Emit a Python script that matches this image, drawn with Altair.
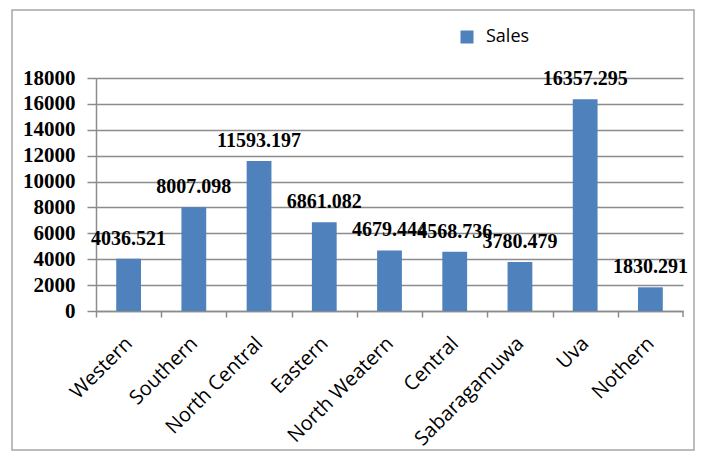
import altair as alt
import pandas as pd

regions = ["Western", "Southern", "North Central", "Eastern", "North Weatern",
           "Central", "Sabaragamuwa", "Uva", "Nothern"]
sales = [4036.521, 8007.098, 11593.197, 6861.082, 4679.444,
         4568.736, 3780.479, 16357.295, 1830.291]
labels = ["4036.521", "8007.098", "11593.197", "6861.082", "4679.444",
          "4568.736", "3780.479", "16357.295", "1830.291"]
series = ["Sales"] * len(regions)
y_ticks = list(range(0, 18001, 2000))

df = pd.DataFrame({"region": regions, "sales": sales, "label": labels, "series": series})

STEP = 587 / 9

x_enc = alt.X(
    "region:N", sort=regions, title=None,
    scale=alt.Scale(paddingInner=0.62, paddingOuter=0.31),
    axis=alt.Axis(
        labelAngle=-45, labelFont="Open Sans", labelFontSize=20, labelColor="#000000",
        labelPadding=16, tickOffset=-STEP / 2, labelOffset=STEP / 2 - 7,
        labelOverlap=False, labelBound=False,
        tickSize=6, tickColor="#8c8c8c", tickWidth=1.5,
        domainColor="#8c8c8c", domainWidth=1.5, grid=False,
    ),
)

y_enc = alt.Y(
    "sales:Q", title=None,
    scale=alt.Scale(domain=[0, 18000], nice=False),
    axis=alt.Axis(
        values=y_ticks, tickCount=10, format="d", labelOverlap=False, labelBound=False,
        labelFont="Liberation Serif", labelFontSize=21,
        labelFontWeight="bold", labelColor="#000000", labelPadding=12,
        tickSize=9, tickColor="#8c8c8c", tickWidth=1.5,
        domainColor="#8c8c8c", domainWidth=1.5,
        grid=True, gridColor="#8c8c8c", gridWidth=1.5,
    ),
)

bars = alt.Chart(df).mark_bar(color="#4F81BD").encode(
    x=x_enc,
    y=y_enc,
    color=alt.Color(
        "series:N", title=None,
        scale=alt.Scale(range=["#4F81BD"]),
        legend=alt.Legend(
            orient="none", legendX=362, legendY=-50, symbolType="square",
            symbolSize=169, symbolStrokeWidth=0, labelFont="Open Sans",
            labelFontSize=18, labelColor="#000000", labelOffset=10, padding=0,
        ),
    ),
)

text = alt.Chart(df).mark_text(
    font="Liberation Serif", fontSize=20, fontWeight="bold", color="#000000",
    baseline="alphabetic", dy=-14,
).encode(
    x=x_enc,
    y=y_enc,
    text="label:N",
)

end_tick = alt.Chart(alt.Data(values=[{}])).mark_rule(
    color="#8c8c8c", strokeWidth=1.5
).encode(x=alt.value(587), y=alt.value(233), y2=alt.value(239))

border = alt.Chart(alt.Data(values=[{}])).mark_rect(
    fill=None, stroke="#a6a6a6", strokeWidth=1.5
).encode(
    x=alt.value(-84), x2=alt.value(598), y=alt.value(-68), y2=alt.value(372)
)

chart = alt.layer(bars, text, end_tick, border).properties(
    width=587, height=233, autosize="none",
    padding={"left": 88, "top": 70, "right": 13, "bottom": 141},
).configure_view(stroke=None)

chart.save("out.html", embed_options={"renderer": "svg", "actions": False})
